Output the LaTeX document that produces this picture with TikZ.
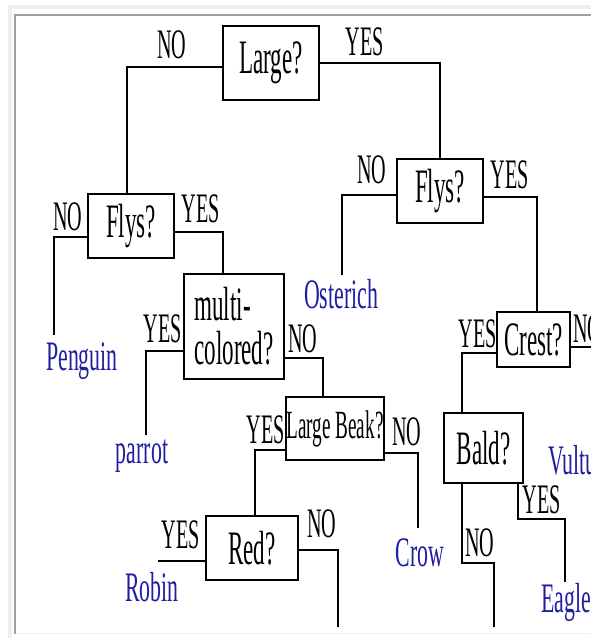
\documentclass[tikz,border=0pt]{standalone}
\usepackage{fontspec}
\newfontfamily\treefont[FakeStretch=0.48]{Liberation Serif}
\newfontfamily\leaffont[FakeStretch=0.52]{Liberation Serif}
\definecolor{leafblue}{RGB}{30,30,160}
\definecolor{framegray}{RGB}{160,160,160}
\definecolor{bandgray}{RGB}{239,239,239}
\tikzset{
  treebox/.style={draw, line width=1.6pt, inner sep=0pt, font=\treefont\fontsize{48}{44}\selectfont},
  answer/.style={inner sep=0pt, anchor=base, font=\treefont\fontsize{42}{42}\selectfont},
  leaf/.style={inner sep=0pt, anchor=base, text=leafblue, font=\leaffont\fontsize{42}{42}\selectfont},
  branch/.style={line width=1.4pt}
}

\begin{document}
\begin{tikzpicture}[x=1pt,y=-1pt]
\useasboundingbox (0,0) rectangle (591,638);
\clip (0,0) rectangle (591,638);
\fill[bandgray] (8,4.5) rectangle (591,9); %frame
\fill[bandgray] (8,4.5) rectangle (12,638);
\draw[framegray, line width=1.8pt] (14.8,634) -- (14.8,14.8) -- (591,14.8);
\draw[bandgray, line width=1.6pt] (15.7,633.5) -- (591,633.5);

\node[treebox, minimum width=96pt, minimum height=74pt] (large) at (271,63) {Large?}; %questions
\node[treebox, minimum width=86pt, minimum height=64pt] (flysA) at (131,226) {Flys?};
\node[treebox, minimum width=86pt, minimum height=64pt] (flysB) at (440,191) {Flys?};
\node[treebox, minimum width=100pt, minimum height=105pt, align=left] (multi) at (234,326.5) {multi-\\colored?};
\node[treebox, minimum width=98pt, minimum height=63pt, font=\treefont\fontsize{40}{40}\selectfont] (beak) at (335,428.5) {Large Beak?};
\node[treebox, minimum width=92pt, minimum height=64pt] (red) at (252,548) {Red?};
\node[treebox, minimum width=73pt, minimum height=55pt] (crest) at (533.5,339.5) {Crest?};
\node[treebox, minimum width=79pt, minimum height=70pt] (bald) at (483.5,448) {Bald?};

\node[leaf] (osterich) at (341,308) {Osterich}; %answers
\node[leaf] (penguin) at (82,370) {Penguin};
\node[leaf] (parrot) at (142,463) {parrot};
\node[leaf] (crow) at (420,566) {Crow};
\node[leaf] (robin) at (152,601) {Robin};
\node[leaf] (eagle) at (566,612) {Eagle};
\node[leaf, anchor=base west] (vulture) at (548,474) {Vulture};

\coordinate (ostend) at (342,275);
\coordinate (pengend) at (54,335);
\coordinate (parrotend) at (146,435);
\coordinate (crowend) at (418,528);
\coordinate (robinend) at (158,561);
\coordinate (rednoend) at (338,627);
\coordinate (vultureend) at (591,347);
\coordinate (baldnoend) at (494,627);
\coordinate (eagleend) at (565,582);

\draw[branch] (large.west |- 0,67) -| (flysA.north -| 127,0);
\draw[branch] (large.east) -| (flysB.north);
\draw[branch] (flysB.west |- 0,195) -| (ostend);
\draw[branch] (flysB.east |- 0,197) -| (crest.north -| 537,0);
\draw[branch] (flysA.west |- 0,237) -| (pengend);
\draw[branch] (flysA.east |- 0,232) -| (multi.north -| 223,0);
\draw[branch] (multi.west |- 0,351) -| (parrotend);
\draw[branch] (multi.east |- 0,358) -| (beak.north -| 323,0);
\draw[branch] (beak.west |- 0,450) -| (red.north -| 255,0);
\draw[branch] (beak.east |- 0,453) -| (crowend);
\draw[branch] (red.west |- 0,561) -- (robinend);
\draw[branch] (red.east |- 0,550) -| (rednoend);
\draw[branch] (crest.east |- 0,347) -- (vultureend);
\draw[branch] (crest.west |- 0,353) -| (bald.north -| 462,0);
\draw[branch] (bald.south -| 462,0) |- (baldnoend |- 0,563) -- (baldnoend);
\draw[branch] (bald.south -| 518,0) |- (eagleend |- 0,519) -- (eagleend);

\node[answer] (nolarge) at (172,58) {NO}; %yes/no labels
\node[answer] (yeslarge) at (365,55) {YES};
\node[answer] (noflysB) at (372,183) {NO};
\node[answer] (yesflysB) at (510,188) {YES};
\node[answer] (noflysA) at (68,230) {NO};
\node[answer] (yesflysA) at (201,222) {YES};
\node[answer] (yesmulti) at (163,342) {YES};
\node[answer] (nomulti) at (303,352) {NO};
\node[answer] (yesbeak) at (266,443) {YES};
\node[answer] (nobeak) at (407,445) {NO};
\node[answer] (yesred) at (181,548) {YES};
\node[answer] (nored) at (322,537) {NO};
\node[answer] (yescrest) at (478,347) {YES};
\node[answer, anchor=base west] (nocrest) at (573,342) {NO};
\node[answer] (yesbald) at (542,513) {YES};
\node[answer] (nobald) at (480,556) {NO};
\end{tikzpicture}
\end{document}
